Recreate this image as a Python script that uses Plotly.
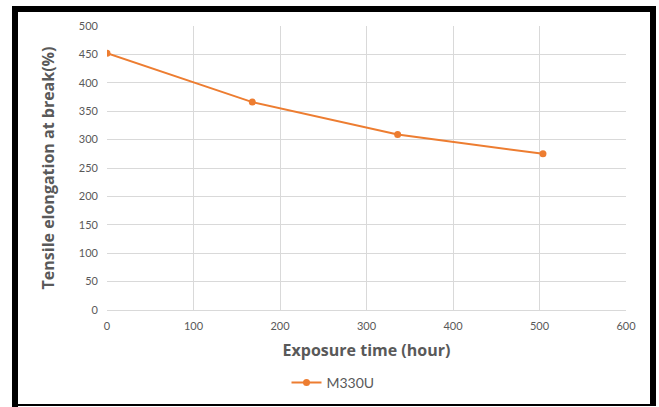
import plotly.graph_objects as go

exposure_hours = [0, 168, 336, 504]
elongation = [452, 366, 309, 275]
series_name = "M330U"

x_title = "Exposure time (hour)"
y_title = "Tensile elongation at break(%)"

W, H = 659, 407
L, R, T, B = 107, 626, 26, 310  # plot area in px


def px_x(p):
    return (p - L) / (R - L)


def px_y(p):
    return (B - p) / (B - T)


fig = go.Figure()
fig.add_trace(go.Scatter(
    x=exposure_hours, y=elongation, name=series_name,
    mode="lines+markers",
    line=dict(color="#ED7D31", width=2),
    marker=dict(color="#ED7D31", size=7),
))

tick_font = dict(family="Lato, Open Sans, sans-serif", size=11, color="#595959")
title_font = dict(family="Open Sans, Lato, sans-serif", size=16, color="#595959")

fig.update_xaxes(
    range=[0, 600], dtick=100, showgrid=True, gridcolor="#d9d9d9", gridwidth=1,
    zeroline=False, showline=True, linecolor="#d9d9d9", ticks="",
    tickfont=tick_font, ticklabelstandoff=6, automargin=False,
    title=dict(text="<b>" + x_title + "</b>", font=title_font, standoff=13),
)
fig.update_yaxes(
    range=[0, 500], dtick=50, showgrid=True, gridcolor="#d9d9d9", gridwidth=1,
    zeroline=False, showline=False, ticks="",
    tickfont=tick_font, ticklabelstandoff=8, automargin=False,
    title=dict(text="<b>" + y_title + "</b>", font=title_font, standoff=20),
)

# black frame around the chart (screenshot border)
frame = [
    (12, 6, 18, 407),    # left
    (12, 6, 656, 12),    # top
    (650, 6, 656, 405),  # right
    (12, 404, 656, 406),  # bottom
]
for x0, y0, x1, y1 in frame:
    fig.add_shape(type="rect", xref="paper", yref="paper",
                  x0=px_x(x0), x1=px_x(x1), y0=px_y(y1), y1=px_y(y0),
                  fillcolor="black", line=dict(width=0), layer="above")

fig.update_layout(
    width=W, height=H,
    margin=dict(l=L, r=W - R, t=T, b=H - B),
    paper_bgcolor="white", plot_bgcolor="white",
    showlegend=True,
    legend=dict(orientation="h", xref="container", yref="container",
                x=333 / W, xanchor="center", y=1 - 383 / H, yanchor="middle",
                font=dict(family="Lato, Open Sans, sans-serif", size=14, color="#595959"),
                itemwidth=30),
)

fig.write_html("out.html", config={"displayModeBar": False},
               post_script="document.body.style.margin='0';")
